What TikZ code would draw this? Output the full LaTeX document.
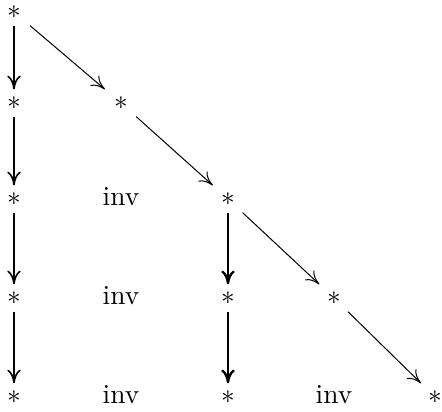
\documentclass[tikz,border=0pt]{standalone}
\usetikzlibrary{arrows.meta}
\begin{document}
\begin{tikzpicture}[x=0.4pt,y=-0.4pt,
  ob/.style={font=\fontsize{10.95}{13}\selectfont,inner xsep=4pt,inner ysep=2.5pt,text height=5.5pt,text depth=0pt},
  ar/.style={-{Computer Modern Rightarrow[length=5.5pt,width=5.4pt]},line width=0.4pt},
  down/.style={ar,line width=0.65pt},
  downb/.style={ar,line width=0.95pt}]
\useasboundingbox (0,0) rectangle (442,412);
\node[ob] (a0) at (14,12) {$*$};
\node[ob] (a1) at (14,103) {$*$};
\node[ob] (b1) at (121,103) {$*$};
\node[ob] (a2) at (14,199) {$*$};
\node[ob] (b2) at (121,199) {inv};
\node[ob] (c2) at (228,199) {$*$};
\node[ob] (a3) at (14,298) {$*$};
\node[ob] (b3) at (121,298) {inv};
\node[ob] (c3) at (228,298) {$*$};
\node[ob] (d3) at (334,298) {$*$};
\node[ob] (a4) at (14,397) {$*$};
\node[ob] (b4) at (121,397) {inv};
\node[ob] (c4) at (228,397) {$*$};
\node[ob] (d4) at (334,397) {inv};
\node[ob] (e4) at (435,397) {$*$};
% first column
\draw[down] (a0) -- (a1);
\draw[down] (a1) -- (a2);
\draw[down] (a2) -- (a3);
\draw[down] (a3) -- (a4);
% diagonal
\draw[ar] (a0) -- (b1);
\draw[ar] (b1) -- (c2);
\draw[ar] (c2) -- (d3);
\draw[ar] (d3) -- (e4);
% third column
\draw[downb] (c2) -- (c3);
\draw[downb] (c3) -- (c4);
\end{tikzpicture}
\end{document}
